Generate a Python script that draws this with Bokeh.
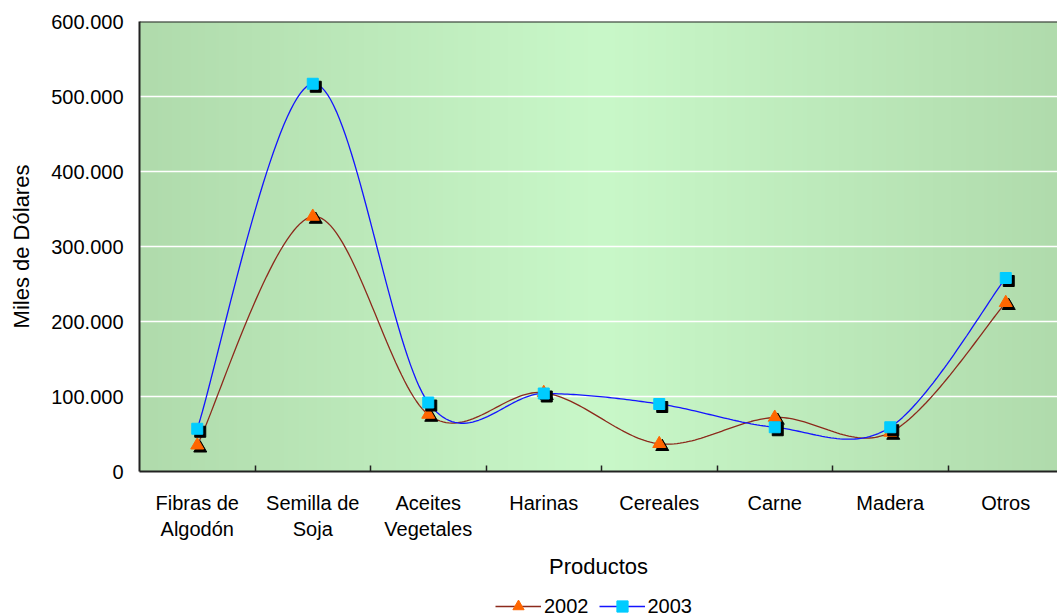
import numpy as np
from bokeh.plotting import figure
from bokeh.layouts import column
from bokeh.models import FixedTicker, Span, Legend, LegendItem
from bokeh.embed import file_html
from bokeh.resources import INLINE

# ---- data ----
categories = ["Fibras de\nAlgodón", "Semilla de\nSoja", "Aceites\nVegetales", "Harinas",
              "Cereales", "Carne", "Madera", "Otros"]
series_names = ["2002", "2003"]
v2002 = [35000, 340000, 76000, 105000, 37000, 72000, 52000, 225000]
v2003 = [57000, 517000, 92000, 104000, 90000, 59000, 59000, 258000]
y_ticks = [0, 100000, 200000, 300000, 400000, 500000, 600000]
y_labels = ["0", "100.000", "200.000", "300.000", "400.000", "500.000", "600.000"]

FONT = "Liberation Sans"

xc = [i + 0.5 for i in range(len(categories))]


def catmull(xs, ys, n=40):
    px = [xs[0]] + list(xs) + [xs[-1]]
    py = [ys[0]] + list(ys) + [ys[-1]]
    ox, oy = [], []
    t = np.linspace(0, 1, n)
    for i in range(1, len(px) - 2):
        for P, out in ((px, ox), (py, oy)):
            p0, p1, p2_, p3 = P[i - 1], P[i], P[i + 1], P[i + 2]
            seg = 0.5 * (2 * p1 + (-p0 + p2_) * t + (2 * p0 - 5 * p1 + 4 * p2_ - p3) * t ** 2
                         + (-p0 + 3 * p1 - 3 * p2_ + p3) * t ** 3)
            out.extend(seg.tolist())
    return ox, oy


W = 1057
H1, H2 = 584, 32
BL, BT = 139, 21
BB = H1 - BT - 450
frame_w = W - BL
xmax = frame_w / 115.5

p = figure(width=W, height=H1, x_range=(0, xmax), y_range=(0, 600000),
           output_backend="svg", toolbar_location=None,
           min_border_left=BL, min_border_right=0, min_border_top=BT, min_border_bottom=BB)
p.outline_line_color = None
p.background_fill_color = "white"

# gradient background (style only)
N = 256
tt = np.linspace(0, 1, N)
w = 1 - np.abs(2 * tt - 1)
edge = np.array([176, 219, 172])
center = np.array([201, 248, 201])
cols = edge[None, :] + (center - edge)[None, :] * w[:, None]
img = np.zeros((1, N), dtype=np.uint32)
view = img.view(dtype=np.uint8).reshape((1, N, 4))
view[0, :, 0:3] = cols.astype(np.uint8)
view[0, :, 3] = 255
p.image_rgba(image=[img], x=0, y=0, dw=8, dh=600000, level="image")

# grid
p.xgrid.grid_line_color = None
p.ygrid.grid_line_color = "white"
p.ygrid.grid_line_width = 1.5
p.ygrid.ticker = FixedTicker(ticks=y_ticks)

# top border
p.add_layout(Span(location=600000, dimension="width", line_color="#222222", line_width=2))

# smoothed lines
c2002_line, c2002_mark = "#8c2a1c", "#ff6600"
c2003_line, c2003_mark = "#1414ff", "#00ccff"

sx, sy = catmull(xc, v2002)
p.line(sx, sy, line_color=c2002_line, line_width=1.3)
sx, sy = catmull(xc, v2003)
p.line(sx, sy, line_color=c2003_line, line_width=1.3)

# marker shadows (3px right/down)
dx = 3 / 115.5
dy = 3 * 600000 / 450
p.scatter([x + dx for x in xc], [v - dy for v in v2002], marker="triangle", size=13,
          fill_color="black", line_color="black")
p.scatter(xc, v2002, marker="triangle", size=13, fill_color=c2002_mark, line_color=c2002_mark)
p.scatter([x + dx for x in xc], [v - dy for v in v2003], marker="square", size=11,
          fill_color="black", line_color="black")
p.scatter(xc, v2003, marker="square", size=11, fill_color=c2003_mark, line_color=c2003_mark)

# axes
xa = p.xaxis[0]
xa.ticker = FixedTicker(ticks=xc, minor_ticks=list(range(1, 8)))
xa.major_label_overrides = {x: c for x, c in zip(xc, categories)}
xa.major_tick_line_color = None
xa.minor_tick_line_color = "#222222"
xa.minor_tick_in = 6
xa.minor_tick_out = 0
xa.minor_tick_line_width = 1.5
xa.axis_line_color = "#222222"
xa.axis_line_width = 2
xa.major_label_text_font = FONT
xa.major_label_text_font_size = "20px"
xa.major_label_text_color = "black"
xa.major_label_text_line_height = 1.2
xa.major_label_standoff = 14
xa.axis_label = "Productos"
xa.axis_label_text_font = FONT
xa.axis_label_text_font_size = "22px"
xa.axis_label_text_font_style = "normal"
xa.axis_label_text_color = "black"
xa.axis_label_standoff = 11

ya = p.yaxis[0]
ya.ticker = FixedTicker(ticks=y_ticks)
ya.major_label_overrides = {t: l for t, l in zip(y_ticks, y_labels)}
ya.major_tick_line_color = None
ya.minor_tick_line_color = None
ya.axis_line_color = "#222222"
ya.axis_line_width = 2
ya.major_label_text_font = FONT
ya.major_label_text_font_size = "20px"
ya.major_label_text_color = "black"
ya.major_label_standoff = 10
ya.axis_label = "Miles de Dólares"
ya.axis_label_text_font = FONT
ya.axis_label_text_font_size = "22px"
ya.axis_label_text_font_style = "normal"
ya.axis_label_text_color = "black"
ya.axis_label_standoff = 14

# legend strip below the chart (proxy renderers use the series data, far outside
# this strip's tiny y-range, so only their legend glyphs are visible)
p2 = figure(width=W, height=H2, x_range=(0, 1), y_range=(-1, 0),
            output_backend="svg", toolbar_location=None,
            min_border_left=0, min_border_right=0, min_border_top=0, min_border_bottom=0)
p2.axis.visible = False
p2.grid.grid_line_color = None
p2.outline_line_color = None
p2.background_fill_color = "white"
p2.border_fill_color = "white"
k02_l = p2.line(x=xc, y=v2002, line_color=c2002_line, line_width=1.3)
k02_m = p2.scatter(x=xc, y=v2002, marker="triangle", size=13,
                   fill_color=c2002_mark, line_color=c2002_mark)
k03_l = p2.line(x=xc, y=v2003, line_color=c2003_line, line_width=1.3)
k03_m = p2.scatter(x=xc, y=v2003, marker="square", size=11,
                   fill_color=c2003_mark, line_color=c2003_mark)

legend = Legend(items=[LegendItem(label=series_names[0], renderers=[k02_l, k02_m]),
                       LegendItem(label=series_names[1], renderers=[k03_l, k03_m])],
                location=(356, -4), orientation="horizontal",
                background_fill_alpha=0, border_line_color=None,
                padding=0, margin=0, spacing=10, glyph_width=46, glyph_height=28,
                label_height=28, label_standoff=3,
                label_text_font=FONT, label_text_font_size="20px", label_text_color="black")
p2.add_layout(legend)

open("out.html", "w").write(file_html(column(p, p2, spacing=0), INLINE))
